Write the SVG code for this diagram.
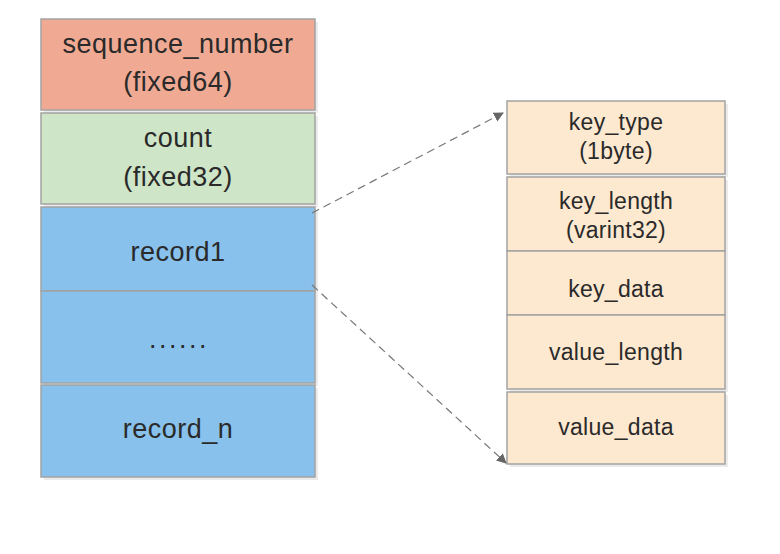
<svg xmlns="http://www.w3.org/2000/svg" width="780" height="554" viewBox="0 0 780 554">
<style>
.box{stroke:#a3a3a3;stroke-width:1.5}
.sh{fill:#000;opacity:0.08}
.red{fill:#F0AA93}
.green{fill:#CFE5C8}
.blue{fill:#88C1EB}
.peach{fill:#FDE8D0}
.tl{font-family:"Liberation Sans",Arial,sans-serif;font-size:27px;fill:#2a2a2a;text-anchor:middle;letter-spacing:0.5px}
.tr{font-family:"Liberation Sans",Arial,sans-serif;font-size:23px;fill:#2a2a2a;text-anchor:middle;letter-spacing:0.3px}
.dots{letter-spacing:2.5px}
.conn{stroke:#777;stroke-width:1.2;stroke-dasharray:8 5;fill:none}
</style>
<defs>
<marker id="ah" viewBox="0 0 10 10" refX="9" refY="5" markerWidth="10" markerHeight="10" markerUnits="userSpaceOnUse" orient="auto">
<path d="M0,0 L10,5 L0,10 Z" fill="#666"/>
</marker>
</defs>
<rect width="780" height="554" fill="#fff"/>
<g id="sequence_number">
<rect class="sh" x="44" y="22" width="274" height="91"/>
<rect class="box red" x="41" y="19" width="274" height="91"/>
<text class="tl" x="178" y="53">sequence_number</text>
<text class="tl" x="178" y="91">(fixed64)</text>
</g>
<g id="count">
<rect class="sh" x="44" y="116" width="274" height="91"/>
<rect class="box green" x="41" y="113" width="274" height="91"/>
<text class="tl" x="178" y="147">count</text>
<text class="tl" x="178" y="186">(fixed32)</text>
</g>
<g id="record1">
<rect class="sh" x="44" y="210" width="274" height="84"/>
<rect class="box blue" x="41" y="207" width="274" height="84"/>
<text class="tl" x="178" y="261">record1</text>
</g>
<g id="ellipsis">
<rect class="sh" x="44" y="294" width="274" height="92"/>
<rect class="box blue" x="41" y="291" width="274" height="92"/>
<text class="tl dots" x="179" y="348">......</text>
</g>
<g id="record_n">
<rect class="sh" x="44" y="388" width="274" height="92"/>
<rect class="box blue" x="41" y="385" width="274" height="92"/>
<text class="tl" x="178" y="438">record_n</text>
</g>
<g id="key_type">
<rect class="sh" x="510" y="104" width="218" height="73"/>
<rect class="box peach" x="507" y="101" width="218" height="73"/>
<text class="tr" x="616" y="130">key_type</text>
<text class="tr" x="616" y="159">(1byte)</text>
</g>
<g id="key_length">
<rect class="sh" x="510" y="180" width="218" height="74"/>
<rect class="box peach" x="507" y="177" width="218" height="74"/>
<text class="tr" x="616" y="209">key_length</text>
<text class="tr" x="616" y="238">(varint32)</text>
</g>
<g id="key_data">
<rect class="sh" x="510" y="254" width="218" height="64"/>
<rect class="box peach" x="507" y="251" width="218" height="64"/>
<text class="tr" x="616" y="297">key_data</text>
</g>
<g id="value_length">
<rect class="sh" x="510" y="318" width="218" height="74"/>
<rect class="box peach" x="507" y="315" width="218" height="74"/>
<text class="tr" x="616" y="360">value_length</text>
</g>
<g id="value_data">
<rect class="sh" x="510" y="395" width="218" height="72"/>
<rect class="box peach" x="507" y="392" width="218" height="72"/>
<text class="tr" x="616" y="435">value_data</text>
</g>
<g id="connectors">
<line class="conn" x1="312" y1="213" x2="503" y2="113" marker-end="url(#ah)"/>
<line class="conn" x1="312" y1="285" x2="506" y2="463" marker-end="url(#ah)"/>
</g>
</svg>
